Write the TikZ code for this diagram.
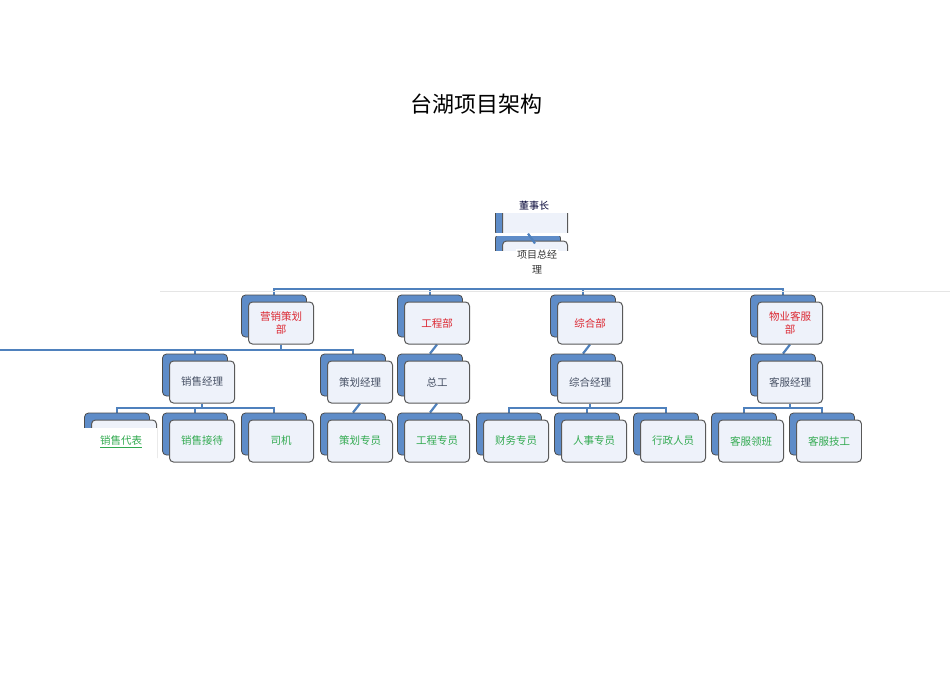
\documentclass[tikz,border=0pt]{standalone}
\usepackage{fontspec}
\newfontfamily\cjk{Noto Sans CJK SC}
\usetikzlibrary{backgrounds}
\definecolor{bl}{RGB}{79,129,189}
\definecolor{bk}{RGB}{94,140,200}
\definecolor{fr}{RGB}{238,242,250}
\definecolor{rd}{RGB}{220,40,50}
\definecolor{gn}{RGB}{50,170,80}
\definecolor{mg}{RGB}{70,80,100}
\tikzset{
 front/.style={draw=black!65,line width=1pt,fill=fr,rounded corners=4pt,minimum width=65pt,minimum height=42pt,inner sep=1pt,align=center,font=\cjk\fontsize{10.5pt}{13pt}\selectfont},
 back/.style={draw=black!70,line width=0.8pt,fill=bk,rounded corners=4pt,minimum width=65pt,minimum height=42pt},
 conn/.style={draw=bl,line width=2.2pt},
}
\newcommand{\orgbox}[5]{%
 \node[back] (#1b) at (#2pt-7pt,-#3pt+7pt) {};
 \node[front,text=#5] (#1) at (#2pt,-#3pt) {#4};}
\begin{document}
\begin{tikzpicture}
\useasboundingbox (0,0) rectangle (950pt,-672pt);
\node[font=\cjk\fontsize{22pt}{26pt}\selectfont] (title) at (476pt,-104pt) {台湖项目架构};
% top (clipped) boxes
\begin{scope}
\clip (480pt,-213pt) rectangle (600pt,-232pt);
\orgbox{ceo}{535}{222}{}{mg}
\end{scope}
\begin{scope}
\clip (480pt,-236pt) rectangle (600pt,-250pt);
\orgbox{gm}{535}{262}{}{mg}
\end{scope}
\node[font=\cjk\fontsize{10pt}{12pt}\selectfont,text=black!80!blue] (ceot) at (534pt,-206pt) {董事长};
\node[font=\cjk\fontsize{10pt}{15pt}\selectfont,align=center,fill=white,inner sep=1pt,text=black!80] (gmt) at (537pt,-262pt) {项目总经\\理};
\draw[conn] (ceo.south) -- (gmb.north);
\draw[black!10,line width=0.6pt] (160pt,-291pt) -- (950pt,-291pt);
% departments
\orgbox{d1}{281}{323}{营销策划\\部}{rd}
\orgbox{d2}{437}{323}{工程部}{rd}
\orgbox{d3}{590}{323}{综合部}{rd}
\orgbox{d4}{790}{323}{物业客服\\部}{rd}
% managers
\orgbox{m1}{202}{382}{销售经理}{mg}
\orgbox{m2}{360}{382}{策划经理}{mg}
\orgbox{m3}{437}{382}{总工}{mg}
\orgbox{m4}{590}{382}{综合经理}{mg}
\orgbox{m5}{790}{382}{客服经理}{mg}
% leaves
\orgbox{l1}{124}{441}{}{gn}
\orgbox{l2}{202}{441}{销售接待}{gn}
\orgbox{l3}{281}{441}{司机}{gn}
\orgbox{l4}{360}{441}{策划专员}{gn}
\orgbox{l5}{437}{441}{工程专员}{gn}
\orgbox{l6}{516}{441}{财务专员}{gn}
\orgbox{l7}{594}{441}{人事专员}{gn}
\orgbox{l8}{673}{441}{行政人员}{gn}
\orgbox{l9}{751}{441}{客服领班}{gn}
\orgbox{l10}{829}{441}{客服技工}{gn}
\fill[white] (80pt,-428pt) rectangle (157pt,-470pt);
\fill[white] (862pt,-400pt) rectangle (900pt,-470pt);
\node[text=gn,font=\cjk\fontsize{10.5pt}{13pt}\selectfont] (l1t) at (121pt,-442pt) {\underline{销售代表}};
\begin{scope}[on background layer]
\draw[conn] (d1b.north) -- ++(0,-6pt) coordinate (bus) -- ++(0,6pt) |- (d4b.north |- 0,-289pt) -- (d4b.north);
\draw[conn] (d2b.north) -- (d2b.north |- 0,-289pt);
\draw[conn] (d3b.north) -- (d3b.north |- 0,-289pt);
\draw[conn] (d1.south) |- (0,-350pt) -| (m1b.north);
\draw[conn] (d1.south) |- (0,-350pt) -| (m2b.north);
\draw[conn] (d1.south) -- (d1.south |- 0,-350pt) -| (m1b.north);
\draw[conn] (d1.south |- 0,-350pt) -| (m2b.north);
\draw[conn] (d2.south) -- (m3b.north);
\draw[conn] (d3.south) -- (m4b.north);
\draw[conn] (d4.south) -- (m5b.north);
\draw[conn] (m1.south) -- (m1.south |- 0,-408pt) -| (l1b.north);
\draw[conn] (m1.south |- 0,-408pt) -| (l2b.north);
\draw[conn] (m1.south |- 0,-408pt) -| (l3b.north);
\draw[conn] (m2.south) -- (l4b.north);
\draw[conn] (m3.south) -- (l5b.north);
\draw[conn] (m4.south) -- (m4.south |- 0,-408pt) -| (l6b.north);
\draw[conn] (m4.south |- 0,-408pt) -| (l7b.north);
\draw[conn] (m4.south |- 0,-408pt) -| (l8b.north);
\draw[conn] (m5.south) -- (m5.south |- 0,-408pt) -| (l9b.north);
\draw[conn] (m5.south |- 0,-408pt) -| (l10b.north);
\end{scope}
\end{tikzpicture}
\end{document}
